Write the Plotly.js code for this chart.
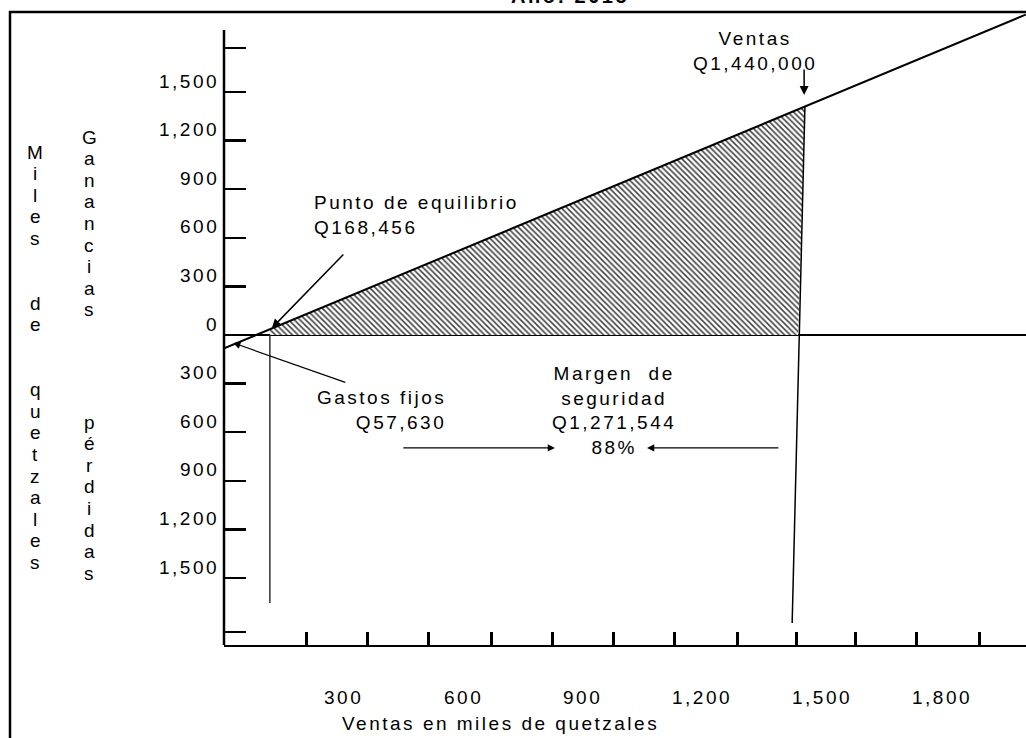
<!DOCTYPE html>
<html><head><meta charset="utf-8">
<script src="https://cdn.plot.ly/plotly-3.0.1.min.js"></script>
<style>
html,body{margin:0;padding:0;background:#fff;}
#chart{width:1026px;height:738px;}
text{letter-spacing:2.5px;}
</style></head><body><div id="chart"></div>
<script>
// All values in thousands of quetzales
const titleText = 'Año: 2015';
const xAxisTitle = 'Ventas en miles de quetzales';
const xTickVals = [206, 361, 514, 670, 823, 978, 1131, 1287, 1437, 1585, 1738, 1894];
const xLabelVals = [300, 600, 900, 1200, 1500, 1800];
const xLabelText = ['300', '600', '900', '1,200', '1,500', '1,800'];
const yTickVals = [1772, 1500, 1200, 900, 600, 300, 0, -300, -600, -900, -1200, -1500, -1833];
const yLabelVals = [1500, 1200, 900, 600, 300, 0, -300, -600, -900, -1200, -1500];
const yLabelText = ['1,500', '1,200', '900', '600', '300', '0', '300', '600', '900', '1,200', '1,500'];
const yAxisTop = 1883;

const salesLineX = [0, 2011];
const salesLineY = [-83, 1978];
const marginAreaX = [115, 115, 1457, 1440];
const marginAreaY = [0, 35, 1410, 0];
const salesMarkX = [1457, 1425];
const salesMarkY = [1410, -1778];
const breakEvenMarkX = [115, 115];
const breakEvenMarkY = [0, -1654];

const leftColumn = ['M','i','l','e','s','','','d','e','','','q','u','e','t','z','a','l','e','s'];
const gananciasColumn = 'Ganancias'.split('');
const perdidasColumn = 'pérdidas'.split('');

const labelVentas = 'Ventas<br>Q1,440,000';
const labelEquilibrio = 'Punto de equilibrio<br>Q168,456';
const labelGastos = 'Gastos fijos<br>Q57,630';
const labelMargen = 'Margen\u00a0 de<br>seguridad<br>Q1,271,544<br>88%';

// layout geometry (pixels)
const W = 1026, H = 738, ML = 224, MT = 12, MB = 93;
const PW = W - ML, PH = H - MT - MB;
const X_RANGE = [0, 2011.5];
const Y_RANGE = [-1913.6, 1993.8];
const FONT = 'Arial, "Liberation Sans", sans-serif';
const pyToPaper = py => (H - MB - py) / PH;
const pxToPaper = px => (px - ML) / PW;
const f = {family: FONT, size: 19, color: '#000'};

const traces = [
  {x: marginAreaX, y: marginAreaY, type: 'scatter', mode: 'lines', fill: 'toself',
   line: {width: 0, color: 'rgba(0,0,0,0)'}, fillcolor: 'white',
   fillpattern: {shape: '\\', size: 4, solidity: 0.4, fgcolor: '#444', bgcolor: 'white', fillmode: 'replace'},
   hoverinfo: 'skip'},
  {x: salesLineX, y: salesLineY, type: 'scatter', mode: 'lines', line: {color: '#000', width: 2}, hoverinfo: 'skip'},
  {x: salesMarkX, y: salesMarkY, type: 'scatter', mode: 'lines', line: {color: '#000', width: 1.5}, hoverinfo: 'skip'},
  {x: breakEvenMarkX, y: breakEvenMarkY, type: 'scatter', mode: 'lines', line: {color: '#333', width: 1.5}, hoverinfo: 'skip'}
];

const ann = [];
function arrow(hx, hy, tx, ty, w) {
  ann.push({x: hx, y: hy, ax: tx, ay: ty, xref: 'x', yref: 'y', axref: 'x', ayref: 'y',
    text: '', showarrow: true, arrowhead: 2, arrowsize: 1.2, arrowwidth: w, arrowcolor: '#000',
    standoff: 0, startstandoff: 0});
}
// title (cut by the top of the picture)
ann.push({text: '<b>' + titleText + '</b>', xref: 'paper', yref: 'paper', x: pxToPaper(570), y: pyToPaper(-4),
  xanchor: 'center', yanchor: 'middle', showarrow: false, font: {family: FONT, size: 20, color: '#000'}});
// y tick labels
yLabelVals.forEach((v, i) => ann.push({text: yLabelText[i], xref: 'paper', yref: 'y', x: 0, y: v,
  xshift: -3, yshift: 11, xanchor: 'right', yanchor: 'middle', showarrow: false, font: f}));
// x tick labels
xLabelVals.forEach((v, i) => ann.push({text: xLabelText[i], xref: 'x', yref: 'paper', x: v, y: pyToPaper(697),
  xanchor: 'center', yanchor: 'middle', showarrow: false, font: f}));
// x axis title
ann.push({text: xAxisTitle, xref: 'paper', yref: 'paper', x: pxToPaper(500), y: pyToPaper(723),
  xanchor: 'center', yanchor: 'middle', showarrow: false, font: f});
// vertical y-axis titles
const STEP = 21.6;
leftColumn.forEach((c, i) => { if (c) ann.push({text: c, xref: 'paper', yref: 'paper', x: pxToPaper(36),
  y: pyToPaper(152 + i * STEP), xanchor: 'center', yanchor: 'middle', showarrow: false, font: f}); });
gananciasColumn.forEach((c, i) => ann.push({text: c, xref: 'paper', yref: 'paper', x: pxToPaper(90),
  y: pyToPaper(137 + i * STEP), xanchor: 'center', yanchor: 'middle', showarrow: false, font: f}));
perdidasColumn.forEach((c, i) => ann.push({text: c, xref: 'paper', yref: 'paper', x: pxToPaper(90),
  y: pyToPaper(422 + i * STEP), xanchor: 'center', yanchor: 'middle', showarrow: false, font: f}));
// callouts
ann.push({text: labelVentas, x: 1332, y: 1756, xref: 'x', yref: 'y', xanchor: 'center', yanchor: 'middle', align: 'center', showarrow: false, font: f});
ann.push({text: labelEquilibrio, x: 221, y: 741, xref: 'x', yref: 'y', xanchor: 'left', yanchor: 'middle', align: 'left', showarrow: false, font: f});
ann.push({text: labelGastos, x: 562, y: -460, xref: 'x', yref: 'y', xanchor: 'right', yanchor: 'middle', align: 'right', showarrow: false, font: f});
ann.push({text: labelMargen, x: 977, y: -463, xref: 'x', yref: 'y', xanchor: 'center', yanchor: 'middle', align: 'center', showarrow: false, font: f});
// arrows
arrow(1455, 1481, 1455, 1648, 1.5);
arrow(120, 43, 303, 506, 1.5);
arrow(23, -49, 308, -296, 1.2);
arrow(830, -697, 446, -697, 1.2);
arrow(1061, -697, 1394, -697, 1.2);

const layout = {
  width: W, height: H, margin: {l: ML, r: 0, t: MT, b: MB, pad: 0},
  paper_bgcolor: '#fff', plot_bgcolor: '#fff', showlegend: false,
  xaxis: {range: X_RANGE, showgrid: false, zeroline: false, showline: true, linecolor: '#000', linewidth: 2,
    ticks: 'inside', tickmode: 'array', tickvals: xTickVals, ticklen: 13, tickwidth: 3, tickcolor: '#000',
    showticklabels: false, fixedrange: true},
  yaxis: {range: Y_RANGE, showgrid: false, zeroline: true, zerolinecolor: '#000', zerolinewidth: 2, showline: false,
    ticks: 'inside', tickmode: 'array', tickvals: yTickVals, ticklen: 22, tickwidth: 2.5, tickcolor: '#000',
    showticklabels: false, fixedrange: true},
  shapes: [
    {type: 'rect', xref: 'paper', yref: 'paper', x0: pxToPaper(10), x1: 1.05, y0: -0.3, y1: 1,
     line: {color: '#000', width: 2.5}, fillcolor: 'rgba(0,0,0,0)', layer: 'above'},
    {type: 'line', xref: 'paper', yref: 'y', x0: 0, x1: 0, y0: yAxisTop, y1: Y_RANGE[0],
     line: {color: '#000', width: 2.5}, layer: 'above'}
  ],
  annotations: ann
};
Plotly.newPlot('chart', traces, layout, {displayModeBar: false, staticPlot: true});
</script></body></html>
